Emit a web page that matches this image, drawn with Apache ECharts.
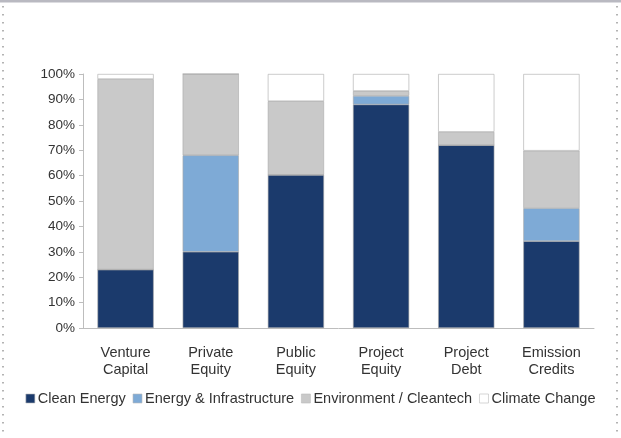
<!DOCTYPE html>
<html>
<head>
<meta charset="utf-8">
<script src="https://cdn.jsdelivr.net/npm/echarts@6/dist/echarts.min.js"></script>
<style>
  html, body { margin: 0; padding: 0; background: #fff; }
  #main { width: 621px; height: 438px; }
</style>
</head>
<body>
<div id="main"></div>
<script>
// categories and shares (%)
var categories = ['Venture\nCapital', 'Private\nEquity', 'Public\nEquity', 'Project\nEquity', 'Project\nDebt', 'Emission\nCredits'];
var cleanEnergy = [23, 30, 60.3, 88, 72, 34.2];
var energyInfra = [0, 38, 0, 3.4, 0, 13];
var environment = [75, 32, 29, 1.9, 5.2, 22.6];
var climateChange = [2, 0, 10.7, 6.7, 22.8, 30.2];

var chart = echarts.init(document.getElementById('main'));

function serie(name, data, color) {
    return {
        name: name,
        type: 'bar',
        stack: 'total',
        barWidth: '66%',
        itemStyle: {color: color, borderColor: '#a8a8a8', borderWidth: 0.6},
        emphasis: {disabled: true},
        data: data
    };
}

chart.setOption({
    animation: false,
    textStyle: {fontFamily: 'Liberation Sans, Arial, sans-serif'},
    grid: {left: 83, right: 27, top: 74, bottom: 110},
    graphic: [
        {type: 'rect', shape: {x: 0, y: 0, width: 621, height: 2.5}, style: {fill: '#b9b9c1'}},
        {type: 'line', shape: {x1: 3, y1: 6, x2: 3, y2: 438}, style: {stroke: '#9a9a9a', lineWidth: 1.5, lineDash: [1.5, 6.5]}},
        {type: 'line', shape: {x1: 617, y1: 6, x2: 617, y2: 438}, style: {stroke: '#9a9a9a', lineWidth: 1.5, lineDash: [1.5, 6.5]}}
    ],
    legend: {
        bottom: 27,
        left: 'center',
        itemWidth: 9,
        itemHeight: 9,
        itemGap: 7,
        icon: 'rect',
        textStyle: {fontSize: 14.5, color: '#333', padding: [0, 0, 0, -2]},
        itemStyle: {borderColor: '#bbb', borderWidth: 0.6}
    },
    xAxis: {
        type: 'category',
        data: categories,
        axisLine: {lineStyle: {color: '#bdbdbd'}},
        axisTick: {length: 5, lineStyle: {color: '#bdbdbd'}},
        axisLabel: {fontSize: 14.5, color: '#333', margin: 16, lineHeight: 17}
    },
    yAxis: {
        type: 'value',
        min: 0,
        max: 100,
        interval: 10,
        axisLine: {show: true, lineStyle: {color: '#bdbdbd'}},
        axisTick: {show: true, length: 4, lineStyle: {color: '#bdbdbd'}},
        splitLine: {show: false},
        axisLabel: {fontSize: 13.5, color: '#333', margin: 8, formatter: '{value}%'}
    },
    series: [
        serie('Clean Energy', cleanEnergy, '#1b3a6c'),
        serie('Energy & Infrastructure', energyInfra, '#7eaad6'),
        serie('Environment / Cleantech', environment, '#c9c9c9'),
        serie('Climate Change', climateChange, '#ffffff')
    ]
});
</script>
</body>
</html>
